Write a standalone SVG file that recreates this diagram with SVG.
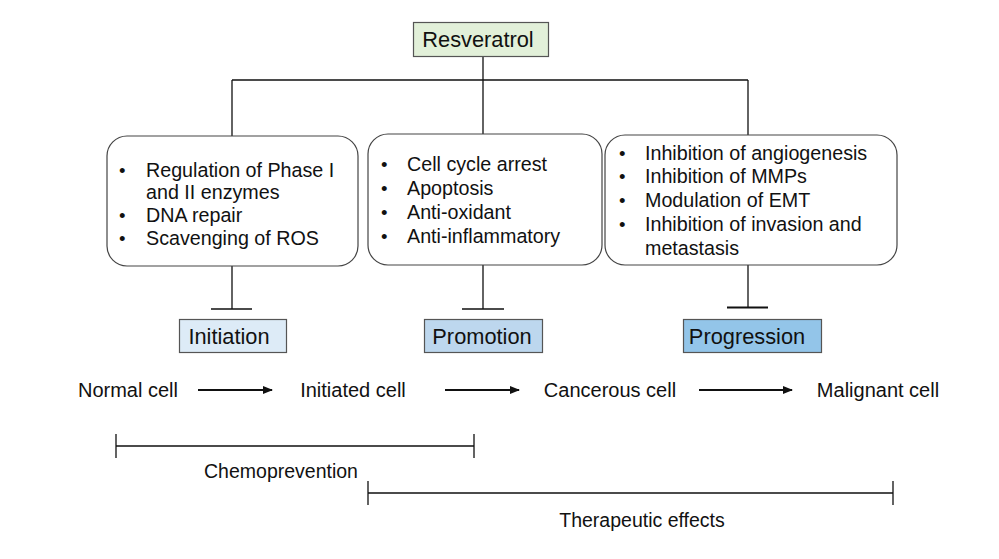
<svg xmlns="http://www.w3.org/2000/svg" width="999" height="559" viewBox="0 0 999 559">
<style>
text{font-family:"Liberation Sans",Arial,sans-serif;fill:#111}
.b{font-size:19.7px}
.d{font-size:18.5px}
.h{font-size:21.8px}
.r{font-size:20px}
.s{font-size:19.5px}
.ln{stroke:#111;stroke-width:1.3;fill:none}
.box{fill:#fff;stroke:#444;stroke-width:1.2}
</style>
<defs>
<marker id="ah" markerWidth="10" markerHeight="8" refX="9" refY="4" orient="auto" markerUnits="userSpaceOnUse">
<path d="M0,0 L10,4 L0,8 Z" fill="#111"/>
</marker>
</defs>
<rect width="999" height="559" fill="#fff"/>
<g id="connectors">
<path class="ln" d="M483,57 V80 M232,80 H748 M232,80 V137 M483,80 V134 M748,80 V135"/>
<path class="ln" d="M232,265 V309 M211,309 H252"/>
<path class="ln" d="M483,265 V309 M462,309 H504"/>
<path class="ln" d="M748,265 V307"/>
<line x1="727" y1="307.5" x2="768" y2="307.5" stroke="#111" stroke-width="2.2"/>
<line x1="198" y1="390" x2="272" y2="390" stroke="#111" stroke-width="2" marker-end="url(#ah)"/>
<line x1="445" y1="390" x2="519" y2="390" stroke="#111" stroke-width="2" marker-end="url(#ah)"/>
<line x1="699" y1="390" x2="792" y2="390" stroke="#111" stroke-width="2" marker-end="url(#ah)"/>
<path class="ln" d="M116,446 H474 M116,434 V458 M474,434 V458"/>
<path class="ln" d="M368,493 H893 M368,481 V505 M893,481 V505"/>
</g>
<g id="resveratrol">
<rect x="413.5" y="22.5" width="135" height="34" fill="#e2f0d9" stroke="#555" stroke-width="1.2"/>
<text class="h" x="478" y="47" text-anchor="middle">Resveratrol</text>
</g>
<g id="box1">
<rect class="box" x="107" y="136" width="251" height="130" rx="20"/>
<text class="d" x="119" y="177">•</text>
<text class="b" x="146" y="177">Regulation of Phase I</text>
<text class="b" x="146" y="199">and II enzymes</text>
<text class="d" x="119" y="222">•</text>
<text class="b" x="146" y="222">DNA repair</text>
<text class="d" x="119" y="245">•</text>
<text class="b" x="146" y="245">Scavenging of ROS</text>
</g>
<g id="box2">
<rect class="box" x="368" y="134" width="234" height="131" rx="20"/>
<text class="d" x="381" y="171">•</text>
<text class="b" x="407" y="171">Cell cycle arrest</text>
<text class="d" x="381" y="195">•</text>
<text class="b" x="407" y="195">Apoptosis</text>
<text class="d" x="381" y="219">•</text>
<text class="b" x="407" y="219">Anti-oxidant</text>
<text class="d" x="381" y="243">•</text>
<text class="b" x="407" y="243">Anti-inflammatory</text>
</g>
<g id="box3">
<rect class="box" x="605" y="135" width="292" height="130" rx="20"/>
<text class="d" x="619" y="160">•</text>
<text class="b" x="645" y="160">Inhibition of angiogenesis</text>
<text class="d" x="619" y="183">•</text>
<text class="b" x="645" y="183">Inhibition of MMPs</text>
<text class="d" x="619" y="207">•</text>
<text class="b" x="645" y="207">Modulation of EMT</text>
<text class="d" x="619" y="231">•</text>
<text class="b" x="645" y="231">Inhibition of invasion and</text>
<text class="b" x="645" y="255">metastasis</text>
</g>
<g id="initiation">
<rect x="179.5" y="319.5" width="107" height="33" fill="#ddebf7" stroke="#555" stroke-width="1.2"/>
<text class="h" x="229" y="344" text-anchor="middle">Initiation</text>
</g>
<g id="promotion">
<rect x="424.5" y="319.5" width="118" height="33" fill="#bdd7ee" stroke="#555" stroke-width="1.2"/>
<text class="h" x="482" y="344" text-anchor="middle">Promotion</text>
</g>
<g id="progression">
<rect x="683.5" y="319.5" width="138" height="33" fill="#93c5e9" stroke="#555" stroke-width="1.2"/>
<text class="h" x="747" y="344" text-anchor="middle">Progression</text>
</g>
<g id="normal"><text class="r" x="128" y="397" text-anchor="middle">Normal cell</text></g>
<g id="initiated"><text class="r" x="353" y="397" text-anchor="middle">Initiated cell</text></g>
<g id="cancerous"><text class="r" x="610" y="397" text-anchor="middle">Cancerous cell</text></g>
<g id="malignant"><text class="r" x="878" y="397" text-anchor="middle">Malignant cell</text></g>
<g id="chemoprevention"><text class="s" x="281" y="478" text-anchor="middle">Chemoprevention</text></g>
<g id="therapeutic"><text class="s" x="642" y="527" text-anchor="middle">Therapeutic effects</text></g>
</svg>
